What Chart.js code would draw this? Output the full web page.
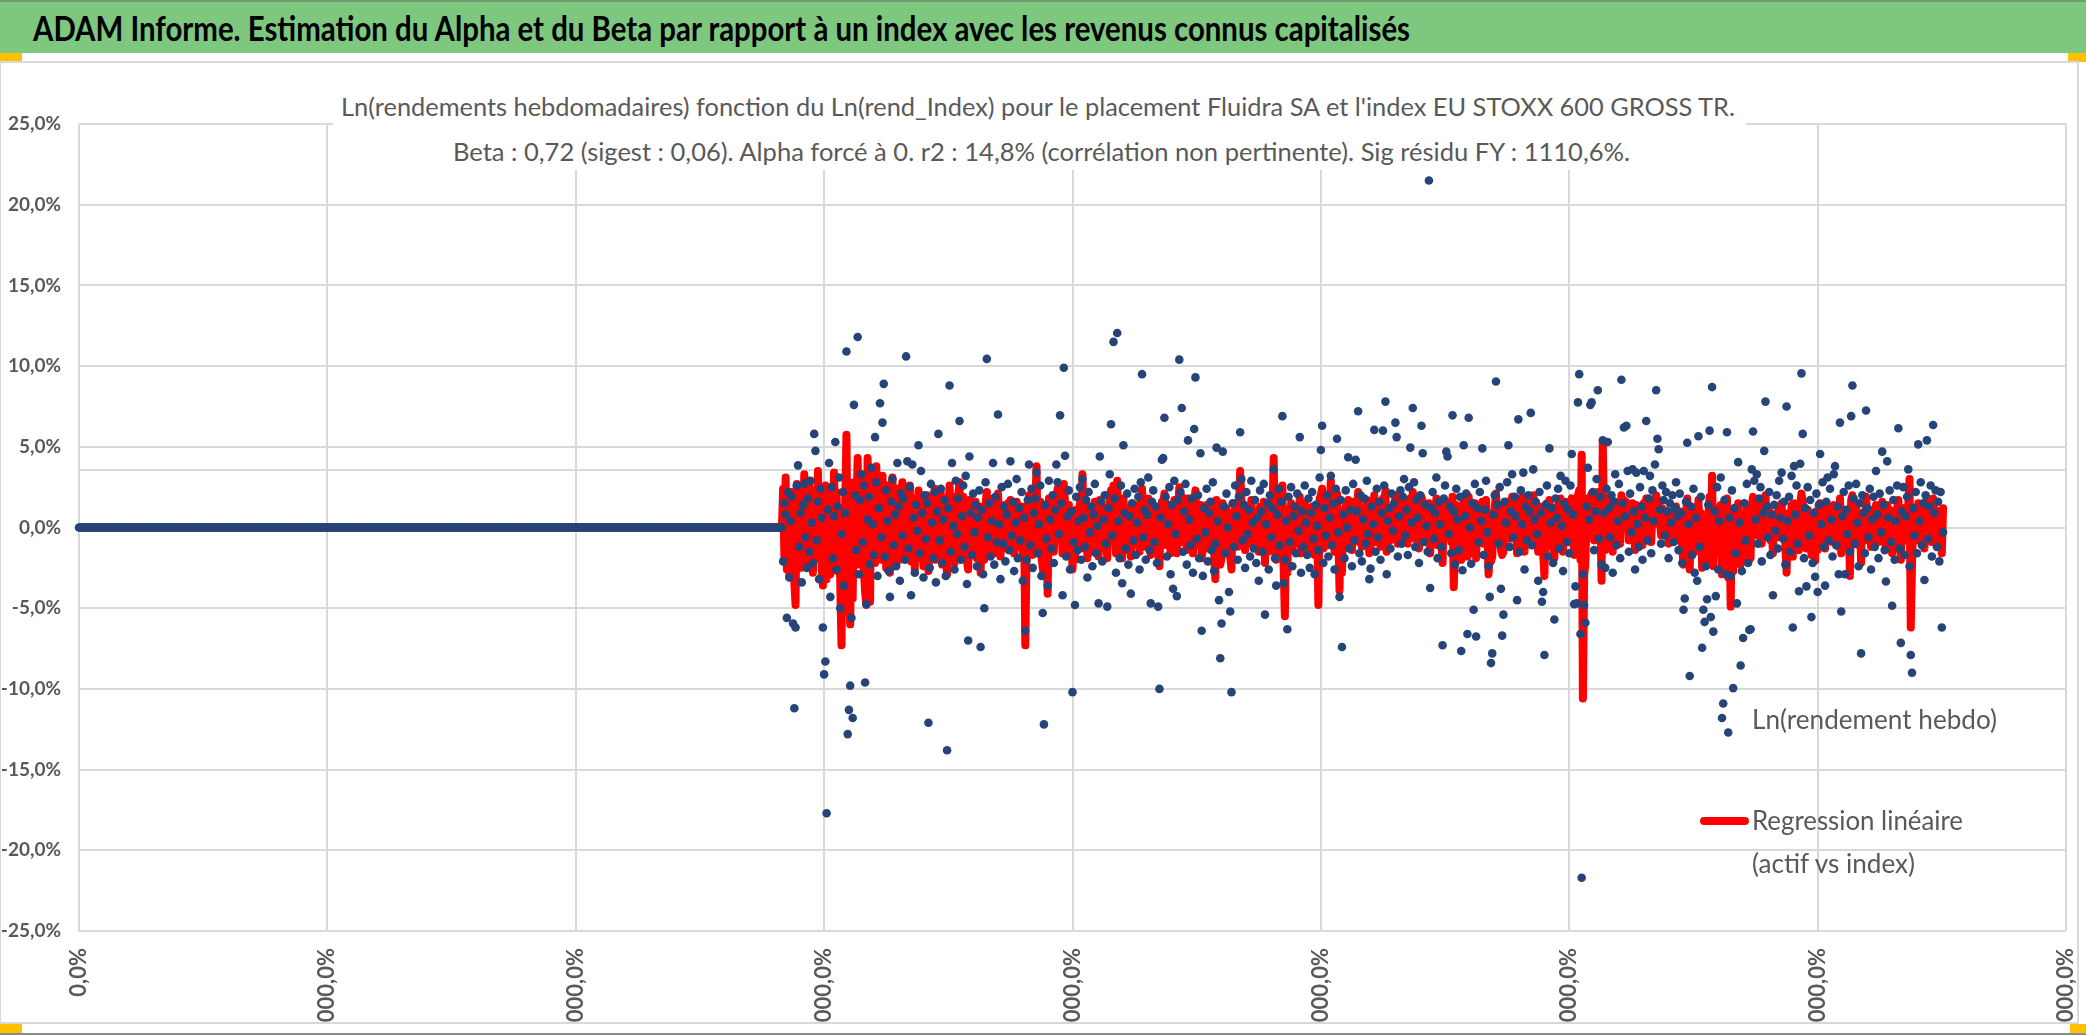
<!DOCTYPE html>
<html><head><meta charset="utf-8">
<script src="https://cdn.jsdelivr.net/npm/chart.js@4.4.1/dist/chart.umd.min.js"></script>
<style>
html,body{margin:0;padding:0;background:#fff;}
body{width:2086px;height:1035px;overflow:hidden;position:relative;font-family:Lato,'Open Sans',sans-serif;}
.abs{position:absolute;}
.txt{position:absolute;white-space:nowrap;transform-origin:0 0;}
</style></head><body>
<div class="abs" style="left:0;top:0;width:2086px;height:53px;background:#7ec77f;border-top:2px solid #6f9c70;box-sizing:border-box"></div>
<div class="txt fit" data-w="1377" style="left:33px;top:10px;font-size:35px;line-height:35px;font-weight:bold;color:#000">ADAM Informe. Estimation du Alpha et du Beta par rapport à un index avec les revenus connus capitalisés</div>
<div class="abs" style="left:0;top:53px;width:22px;height:8px;background:#ffc000"></div>
<div class="abs" style="left:2068px;top:53px;width:18px;height:9px;background:#ffc000"></div>
<div class="abs" style="left:0;top:61px;width:2079px;height:2px;background:#d9d9d9"></div>
<div class="abs" style="left:0;top:61px;width:1px;height:963px;background:#d9d9d9"></div>
<div class="abs" style="left:2077px;top:61px;width:2px;height:963px;background:#d9d9d9"></div>
<div class="abs" style="left:0;top:1022px;width:2079px;height:2px;background:#d9d9d9"></div>
<div class="abs" style="left:0;top:1024px;width:22px;height:9px;background:#ffc000"></div>
<div class="abs" style="left:2070px;top:1024px;width:16px;height:9px;background:#ffc000"></div>
<div class="abs" style="left:0;top:1033px;width:2086px;height:2px;background:#8c8c8c"></div>

<div class="abs" style="left:2px;top:63px;width:2074px;height:959px;"><canvas id="c"></canvas></div>

<div class="abs" style="left:333px;top:80px;width:1413px;height:90px;background:#fff"></div>
<div class="txt fit" data-w="1394" style="left:341px;top:94px;font-size:25px;line-height:25px;color:#595959">Ln(rendements hebdomadaires) fonction du Ln(rend_Index) pour le placement Fluidra SA et l'index EU STOXX 600 GROSS TR.</div>
<div class="txt fit" data-w="1177" style="left:453px;top:139px;font-size:25px;line-height:25px;color:#595959">Beta : 0,72 (sigest : 0,06). Alpha forcé à 0. r2 : 14,8% (corrélation non pertinente). Sig résidu FY : 1110,6%.</div>

<div class="txt fit" data-w="245" style="left:1752px;top:706px;font-size:26px;line-height:26px;color:#595959">Ln(rendement hebdo)</div>
<div class="abs" style="left:1700px;top:817px;width:49px;height:8px;background:#ff0000;border-radius:4px"></div>
<div class="txt fit" data-w="211" style="left:1752px;top:807px;font-size:26px;line-height:26px;color:#595959">Regression linéaire</div>
<div class="txt fit" data-w="163" style="left:1752px;top:850px;font-size:26px;line-height:26px;color:#595959">(actif vs index)</div>

<script>
// ---- DATA (values in %) ----
const xTicks = [0,200,400,600,800,1000,1200,1400,1600];
const yTicks = [-25,-20,-15,-10,-5,0,5,10,15,20,25];
const extraGridLines = [3.55];

// weeks before listing: both series at 0
const preListingWeeks = [
0,0,0,0,0,0,0,0,0, 0,0,0,0,0,0,0,0,0, 0,0,0,0,0,0,0,0,0, 0,0,0,0,0,0,0,0,0, 0,0,0,0,0,0,0,0,0, 0,0,0,0,0,0,0,0,0, 0,0,0,0,0,0,0,0,0,
0,0,0,0,0,0,0,0,0, 0,0,0,0,0,0,0,0,0, 0,0,0,0,0,0,0,0,0, 0,0,0,0,0,0,0,0,0, 0,0,0,0,0,0,0,0,0, 0,0,0,0,0,0,0,0,0, 0,0,0,0,0,0,0,0,0,
0,0,0,0,0,0,0,0,0, 0,0,0,0,0,0,0,0,0, 0,0,0,0,0,0,0,0,0, 0,0,0,0,0,0,0,0,0, 0,0,0,0,0,0,0,0,0, 0,0,0,0,0,0,0,0,0, 0,0,0,0,0,0,0,0,0,
0,0,0,0,0,0,0,0,0, 0,0,0,0,0,0,0,0,0, 0,0,0,0,0,0,0,0,0, 0,0,0,0,0,0,0,0,0, 0,0,0,0,0,0,0,0,0, 0,0,0,0,0,0,0,0,0, 0,0,0,0,0,0,0,0,0,
0,0,0,0,0,0,0,0,0, 0,0,0,0,0,0,0,0,0, 0,0,0,0,0,0,0,0,0, 0,0,0,0,0,0,0,0,0, 0,0,0,0,0,0,0,0,0, 0,0,0,0,0,0,0,0,0, 0,0,0,0,0,0,0,0,0,
0,0,0,0,0,0,0,0,0, 0,0,0,0,0,0,0,0,0, 0,0,0,0,0,0,0,0,0, 0,0,0,0,0,0,0,0,0, 0,0,0,0,0,0,0,0,0, 0,0,0,0,0,0,0,0,0, 0,0,0,0,0,0,0,0,0,
0,0,0,0,0,0,0,0,0, 0,0,0,0,0,0,0,0,0, 0,0,0,0,0,0,0,0,0, 0,0,0,0,0,0,0,0,0, 0,0,0,0,0,0,0,0,0, 0,0,0,0,0,0,0,0,0, 0,0,0,0,0,0,0,0,0,
0,0,0,0,0,0,0,0,0, 0,0,0,0,0,0,0,0,0, 0,0,0,0,0,0,0,0,0, 0,0,0,0,0,0,0,0,0, 0,0,0,0,0,0,0,0,0, 0,0,0,0,0,0,0,0,0, 0,0,0,0,0,0,0,0,0,
0,0,0,0,0,0,0,0,0, 0,0,0,0,0,0,0,0,0, 0,0,0,0,0,0,0,0,0, 0,0,0,0,0,0,0,0,0, 0,0,0,0,0,0,0,0,0, 0,0,0,0,0,0,0,0,0, 0,0,0,0,0,0,0,0,0
];

// Ln(rendement hebdo) after listing
const rendHebdoListed = [
-2.1,1.5,0.8,-5.6,2.2,-3.1,0.4,1.9,-5.95,-11.2,-6.2,2.6,3.85,-1.2,0.9,-3.4,1.4,2.7,-0.6,-2.5,
1.8,-1.5,2.9,0.3,-2.2,5.8,4.75,-0.8,1.6,-3.2,2.4,0.6,-6.2,-9.1,-8.3,-17.7,1.1,4.0,-4.3,2.5,
-1.9,0.7,5.3,-2.6,1.3,3.1,-5.0,-0.4,2.2,-3.6,0.9,10.9,-12.8,-11.3,-9.8,-5.6,-11.8,7.6,2.0,-1.4,
11.8,-2.9,1.7,3.3,-0.9,2.6,-9.6,-4.75,0.5,1.9,-2.3,3.7,0.2,-1.7,5.6,2.8,-3.0,1.2,7.7,-0.6,
6.5,8.9,-1.8,2.3,0.4,-2.7,-4.3,1.6,3.0,-1.1,0.8,-2.4,4.0,1.3,-3.3,2.1,-0.5,1.8,-2.0,10.6,
4.1,-1.3,2.5,-4.2,3.9,0.6,-2.8,1.4,-0.2,5.1,-1.6,3.5,0.9,-3.1,2.0,-0.7,1.5,-12.1,-2.5,2.7,
0.3,-1.9,2.2,-3.4,1.0,5.8,-0.8,2.4,-2.2,0.5,1.7,-3.0,-13.8,1.2,8.8,-1.5,4.0,0.1,-2.6,2.9,
-0.4,1.8,6.6,-2.0,0.7,2.6,-1.2,3.2,-3.5,-7.0,4.4,0.9,-1.7,2.1,-0.3,1.4,-2.4,0.6,2.3,-7.4,
1.1,-2.9,-5.0,2.8,10.45,-0.6,1.5,-1.8,0.4,4.0,-2.3,1.9,-0.9,7.0,0.2,-3.2,2.5,-1.0,1.3,-2.1,
0.8,2.7,-1.4,4.1,-0.5,1.6,-2.7,0.3,3.0,-1.9,1.2,-0.8,2.2,-3.3,0.6,-6.4,-2.0,1.7,3.9,-1.1,
2.4,-2.5,0.9,1.8,3.4,-1.6,0.2,2.6,-3.0,-5.3,-12.2,1.4,-0.7,-3.6,2.9,0.5,-1.3,2.0,-2.2,1.1,
3.9,2.8,-0.4,6.95,1.5,-4.2,9.9,4.45,-1.8,0.7,2.3,-2.6,1.0,-10.2,-0.9,-4.8,1.9,-1.4,0.4,2.5,
-2.0,3.0,0.6,-1.2,1.7,-3.1,2.2,-0.3,1.3,-2.4,0.8,2.7,-1.6,0.1,-4.7,4.4,1.6,-2.1,0.5,2.0,
-1.0,-4.9,1.2,3.3,6.4,-0.5,11.5,1.8,-2.8,12.05,0.4,-1.9,2.6,-3.45,5.1,0.9,-1.3,2.1,-2.3,0.7,
-4.1,1.5,-0.8,2.4,-1.7,0.3,1.9,-2.6,2.8,9.5,-0.6,1.1,-2.0,0.8,3.1,-1.4,-4.7,1.6,2.3,-0.9,
1.3,-2.2,-4.9,-10.0,0.6,4.2,4.3,6.8,1.9,-1.8,0.2,2.5,-2.9,1.4,-3.8,2.9,-0.4,-4.25,1.7,10.4,
2.2,7.4,-1.5,1.0,2.7,-2.3,5.4,0.5,-1.1,1.8,-2.8,6.1,9.3,-0.7,2.0,-1.9,4.6,-6.4,-3.0,1.2,
-0.3,2.4,-2.1,0.9,1.6,-1.4,2.8,-2.7,-1.0,4.95,0.4,-4.5,-8.1,-5.95,4.7,1.3,-1.6,2.1,0.0,-4.0,
-5.2,-10.2,1.5,-1.2,2.6,0.7,-2.0,1.9,5.9,3.0,-0.8,1.4,-2.5,2.2,-0.4,1.1,-1.8,2.9,0.3,-1.3,
1.7,-2.2,0.6,-3.3,2.3,1.0,-1.5,2.7,-5.4,0.2,1.5,-2.6,2.0,-0.6,1.2,3.6,-1.9,-3.6,0.8,2.4,
-1.1,1.6,6.9,-3.45,-2.0,0.4,-6.3,1.9,-0.9,2.5,-2.4,0.7,1.3,-1.6,2.1,-0.2,5.6,-2.8,1.0,-1.2,
2.6,0.3,-1.7,1.8,-2.5,0.9,2.2,-0.7,-2.9,1.4,0.1,-1.4,3.1,4.8,6.3,-2.2,1.2,-0.5,2.0,-1.8,
0.6,3.2,-1.1,1.5,-2.6,2.4,5.5,-0.3,-4.3,1.7,-7.4,0.8,-1.9,2.3,0.0,4.35,-1.3,1.1,-2.4,2.7,
-0.8,4.2,1.0,7.2,-1.6,2.0,-2.1,0.5,1.8,-1.0,2.9,-0.4,-3.2,-2.55,1.3,0.2,6.05,-1.5,2.4,-0.6,
1.6,-2.0,0.9,6.0,2.6,7.8,-2.9,0.4,1.2,-1.3,2.1,-0.2,1.5,6.5,5.6,-1.8,0.7,2.3,-1.0,1.9,
3.0,-0.5,1.1,-1.7,2.5,4.95,0.3,7.4,2.8,-1.2,1.7,0.6,-2.2,2.0,6.3,4.6,-0.9,1.4,0.1,-1.5,
21.5,-3.75,1.2,2.2,-0.7,0.9,3.1,-1.9,1.6,0.2,-1.2,-7.3,1.8,2.6,4.7,4.4,-0.4,1.3,-1.6,6.95,
1.0,-2.3,2.4,0.5,-1.4,1.9,-7.65,-2.65,5.1,0.7,2.1,-6.6,6.8,0.0,-2.25,1.5,-5.1,2.7,-6.75,1.2,
-0.9,2.2,0.4,4.9,-1.7,1.1,2.9,-0.3,-2.4,-4.3,-8.4,-7.8,0.8,2.0,9.05,1.4,-1.0,2.5,-3.8,-6.7,
-5.4,1.6,0.3,2.8,5.1,-1.2,1.0,3.3,-0.6,1.9,0.7,-4.5,6.7,-1.5,2.3,0.2,3.4,-2.6,1.3,-0.8,
2.0,1.0,7.1,-1.1,3.6,0.5,1.6,-0.4,-3.3,2.2,0.9,-4.6,-4.0,-7.9,1.4,2.6,-1.8,4.9,0.3,1.2,
-2.2,-5.7,1.8,0.6,2.4,-1.3,3.2,0.1,-2.7,1.5,2.9,-0.9,1.1,-1.6,2.6,4.55,0.8,-4.75,-3.65,-4.7,
7.75,9.5,-6.6,-21.7,-2.9,-4.8,-5.9,1.3,3.7,0.5,7.6,7.75,2.2,-1.4,1.0,3.0,8.5,-0.7,1.9,-2.3,
5.4,0.9,-2.5,2.4,5.3,1.2,-0.6,2.0,-2.8,1.6,3.3,-1.1,0.4,2.7,-1.9,9.15,1.5,6.2,0.7,6.3,
3.5,-1.5,2.1,-0.3,3.6,1.0,-2.6,3.4,0.2,-1.2,2.5,1.3,-2.0,3.5,0.6,6.6,-0.8,1.8,3.2,-1.6,
2.3,0.4,3.9,8.5,5.5,4.85,1.1,-1.0,2.6,1.7,-0.5,2.2,1.0,-1.9,1.5,0.3,2.0,-0.9,1.2,2.8,
0.7,-1.4,2.1,0.9,-2.2,-5.1,-4.4,1.6,5.25,0.2,-9.2,1.3,-1.7,2.4,-2.8,0.6,-3.3,5.65,-1.2,1.9,
-7.45,-5.1,-5.85,-2.4,-4.45,1.4,6.0,-5.55,8.7,-6.45,1.0,-4.25,2.5,-2.6,0.4,3.1,-11.8,-10.9,1.7,-2.9,
5.9,-12.7,0.6,-3.0,2.3,-9.95,1.2,-1.6,-4.7,4.05,0.3,-8.55,-2.7,-6.85,1.5,-0.8,2.7,-2.2,-6.35,-6.3,
3.6,5.95,2.9,0.5,3.3,-1.0,1.8,2.5,-2.1,0.9,4.75,7.8,1.3,-0.6,2.2,-1.7,0.8,-4.2,1.4,-0.2,
2.0,-1.3,2.9,0.6,3.4,-0.7,1.6,-2.3,7.5,0.4,1.9,-1.5,3.2,-6.2,3.8,0.8,2.6,-1.0,-3.95,3.95,
9.55,5.8,-1.9,1.2,-3.65,2.5,-0.5,1.7,-5.55,-2.2,0.9,-3.05,2.1,-4.0,1.4,4.55,0.2,2.8,-1.2,-3.6,
1.6,3.1,-0.8,2.4,0.5,-1.8,3.3,3.8,-1.1,1.3,-2.9,6.5,-5.2,0.7,2.2,-2.9,1.1,-0.4,2.6,-1.5,
6.9,8.8,1.8,-1.0,2.7,0.3,-2.4,1.5,-7.8,2.0,0.9,-1.6,7.25,1.2,-0.6,2.4,-2.6,0.5,1.9,-1.2,
3.5,0.8,-1.9,2.1,-0.3,4.7,1.4,-1.4,-3.35,4.1,0.6,2.3,-0.9,-4.85,1.7,-2.0,0.4,2.6,6.15,-1.3,
-7.15,1.0,2.5,-1.7,0.7,1.9,3.6,-2.4,-7.9,-9.0,1.2,-0.5,2.2,-1.6,5.15,0.4,2.8,-1.1,1.5,-3.25,
2.0,5.4,-0.7,1.3,2.6,-1.8,6.35,0.9,2.3,-1.2,1.6,-2.1,2.2,-6.2,-0.3
];

// Regression linéaire (actif vs index) after listing
const regressionListed = [
2.4,-1.8,3.1,-2.6,1.5,-3.0,2.2,-0.8,1.9,-3.4,-4.8,2.7,-1.2,0.9,-2.5,2.0,-1.6,3.3,-0.4,1.2,
-2.2,2.9,-1.0,1.7,-2.8,0.6,2.3,-1.9,3.5,-0.7,1.4,-2.4,-3.6,1.1,2.6,-3.2,0.5,2.1,-2.9,1.8,
-1.3,3.4,-0.6,2.2,-2.7,1.0,-3.5,-7.3,0.8,-5.2,1.6,5.75,-3.9,-2.1,-6.0,1.3,-4.4,2.8,-1.5,0.9,
4.3,-2.3,2.5,-1.1,3.0,-2.6,-4.0,-4.8,4.3,-1.4,-4.6,3.6,-0.9,2.0,-2.2,3.8,-1.7,1.2,2.7,-2.0,
3.2,-0.5,1.9,-2.5,2.6,-1.2,-2.8,1.5,3.1,-0.8,1.0,-2.3,2.4,-1.5,-2.0,1.7,2.8,-0.3,-1.8,2.2,
1.2,-1.6,2.6,-2.1,0.7,1.8,-2.6,1.1,-0.5,2.3,-1.9,1.4,0.2,-2.4,1.6,-0.9,2.0,-2.7,-1.2,1.9,
-0.6,1.3,2.4,-2.0,0.8,1.7,-1.4,2.1,-2.3,0.4,1.5,-1.8,-2.9,1.0,2.6,-1.1,1.9,-0.4,-2.2,1.6,
-0.9,2.0,2.8,-1.6,0.6,1.9,-1.0,1.4,-2.1,-2.6,1.7,0.3,-1.5,1.2,-0.8,1.6,-1.9,0.5,1.3,-2.8,
0.7,-1.7,-2.0,1.5,2.2,-0.6,1.1,-1.4,0.4,1.8,-1.6,1.2,-0.5,2.1,0.3,-1.8,1.4,-0.9,0.8,-1.3,
0.6,1.5,-1.0,1.7,-0.4,1.0,-1.6,0.2,1.6,-1.2,0.9,-0.6,1.3,-1.9,0.4,-7.3,-1.5,1.2,2.0,-0.8,
1.4,-1.7,0.6,1.1,3.8,-1.2,0.3,1.6,-1.8,-2.5,-3.0,1.0,-0.5,-4.1,1.8,0.4,-0.9,1.3,-1.5,0.7,
1.9,2.4,-0.3,2.2,0.9,-1.6,2.7,1.5,-1.2,0.5,1.4,-1.7,0.6,-2.6,-0.6,-2.0,1.1,-0.9,0.3,1.5,
-1.3,3.3,0.4,-0.8,1.0,-1.9,1.3,-0.2,0.8,-1.5,0.5,1.6,-1.0,0.1,-1.8,1.7,0.9,-1.3,0.3,1.2,
-0.7,-1.9,0.8,1.9,2.3,-0.3,2.6,1.0,-1.6,2.9,0.2,-1.2,1.5,-1.9,1.8,0.5,-0.8,1.2,-1.4,0.4,
-1.8,0.9,-0.5,1.4,-1.0,0.2,1.1,-1.5,1.6,2.4,-0.4,0.6,-1.2,0.5,1.8,-0.8,-1.7,0.9,1.3,-0.6,
0.8,-1.3,-1.6,-2.4,0.4,1.6,1.4,2.1,1.0,-1.1,0.1,1.4,-1.6,0.8,-1.5,1.7,-0.2,-1.6,1.0,2.5,
1.3,1.9,-0.9,0.6,1.5,-1.4,1.8,0.3,-0.7,1.0,-1.6,1.6,2.3,-0.4,1.1,-1.1,1.4,-1.9,-1.2,0.7,
-0.2,1.4,-1.3,0.5,0.9,-0.8,1.6,-1.5,-3.2,1.7,0.2,-1.7,-2.3,-1.9,1.5,0.8,-0.9,1.2,0.0,-1.4,
-1.8,-2.6,0.9,-0.7,1.5,0.4,-1.2,1.1,3.5,1.7,-0.5,0.8,-1.4,1.3,-0.2,0.6,-1.0,1.7,0.2,-0.8,
1.0,-1.3,0.3,-1.5,1.3,0.6,-0.9,1.6,-2.2,0.1,0.9,-1.5,1.2,-0.4,0.7,4.3,-1.1,-2.0,0.5,1.4,
-0.7,0.9,2.6,-2.4,-5.5,0.2,-2.8,1.1,-0.5,1.5,-1.4,0.4,0.8,-1.0,1.2,-0.1,1.9,-1.6,0.6,-0.7,
1.5,0.2,-1.0,1.0,-1.5,0.5,1.3,-0.4,-1.7,0.8,0.1,-4.8,1.8,2.0,2.4,-1.3,0.7,-0.3,1.2,-1.1,
0.4,2.9,-0.6,0.9,-1.5,1.4,2.1,-0.2,-3.9,1.0,-2.8,0.5,-1.1,1.3,0.0,1.7,-0.8,0.6,-1.4,1.6,
-0.5,1.6,0.6,2.2,-0.9,1.2,-1.2,0.3,1.0,-0.6,1.7,-0.2,-1.6,-1.3,0.8,0.1,2.0,-0.9,1.4,-0.4,
0.9,-1.2,0.5,1.8,1.5,2.3,-1.5,0.2,0.7,-0.8,1.2,-0.1,0.9,2.0,1.7,-1.0,0.4,1.3,-0.6,1.1,
1.7,-0.3,0.6,-1.0,1.4,1.8,0.2,2.2,1.6,-0.7,1.0,0.4,-1.3,1.2,1.9,1.6,-0.5,0.8,0.1,-0.9,
1.5,-1.6,0.7,1.3,-0.4,0.5,1.8,-1.1,0.9,0.1,-0.7,-2.2,1.0,1.5,1.6,1.4,-0.2,0.8,-0.9,1.9,
-3.7,-1.3,1.4,0.3,-0.8,1.1,-2.0,-1.5,1.7,0.4,1.2,-1.8,1.9,0.0,-1.3,0.9,-1.6,1.5,-1.9,0.7,
-0.5,1.3,0.2,1.6,-1.0,0.6,1.7,-0.2,-2.9,-1.6,-2.1,-1.8,0.5,1.2,2.1,0.8,-0.6,1.4,-1.4,-1.7,
-1.5,0.9,0.2,1.6,1.5,-0.7,0.6,1.9,-0.4,1.1,0.4,-1.6,1.8,-0.9,1.3,0.1,1.9,-1.5,0.8,-0.5,
1.2,0.6,1.9,-0.6,2.0,0.3,0.9,-0.2,-1.5,1.3,0.5,-1.4,-1.6,-3.0,0.8,1.5,-1.0,1.7,0.2,0.7,
-1.3,-1.9,1.0,0.4,1.4,-0.8,1.8,0.1,-1.5,0.9,1.6,-0.5,0.6,-0.9,1.5,1.8,0.5,-1.7,-1.2,-1.5,
2.0,2.3,-2.0,4.5,-10.6,-3.0,-2.2,0.8,1.8,0.3,1.9,2.1,1.2,-0.8,0.6,1.6,2.2,-0.4,1.1,-3.3,
5.3,0.5,-1.4,1.3,1.8,0.7,-0.3,1.1,-1.5,0.9,1.6,-0.6,0.2,1.4,-1.0,2.0,0.8,1.7,0.4,1.6,
1.4,-0.8,1.1,-0.2,1.5,0.5,-1.4,1.4,0.1,-0.6,1.2,0.7,-1.1,1.5,0.3,1.8,-0.4,0.9,1.4,-0.9,
1.1,0.2,1.6,2.0,1.6,1.5,0.6,-0.5,1.2,0.8,-0.3,1.0,0.5,-1.0,0.8,0.1,1.0,-0.5,0.6,1.3,
0.4,-0.8,1.0,0.5,-1.2,-2.3,-1.8,0.8,1.8,0.1,-2.6,0.7,-0.9,1.1,-1.5,0.3,-1.4,1.7,-0.6,0.9,
-2.5,-1.9,-2.2,-1.2,-1.7,0.7,1.9,-2.0,3.2,-2.4,0.5,-1.6,1.2,-1.4,0.2,1.4,-2.9,-2.6,0.8,-1.5,
1.8,-3.1,0.3,-4.9,1.1,-2.7,0.6,-0.8,-1.7,1.5,0.1,-2.3,-1.3,-2.1,0.7,-0.4,1.3,-1.1,-2.0,-1.9,
1.4,1.9,1.3,0.2,1.5,-0.5,0.9,1.2,-1.0,0.4,1.6,2.0,0.6,-0.3,1.0,-0.8,0.4,-1.6,0.7,-0.1,
0.9,-0.6,1.3,0.3,1.5,-0.3,0.8,-1.1,-2.8,0.2,0.9,-0.7,1.4,-1.8,1.5,0.4,1.2,-0.5,-1.4,1.4,
2.1,1.6,-0.9,0.6,-1.3,1.1,-0.2,0.8,-1.7,-1.0,0.4,-2.05,1.0,-1.4,0.7,1.5,0.1,1.2,-0.6,-1.3,
0.8,1.3,-0.4,1.1,0.2,-0.9,1.4,1.3,-0.5,0.6,-1.2,1.8,-1.6,0.3,1.0,-1.1,0.5,-0.2,1.1,-3.0,
1.7,2.0,0.8,-0.5,1.2,0.1,-1.1,0.7,-2.2,0.9,0.4,-0.8,1.9,0.6,-0.3,1.1,-1.2,0.2,0.9,-0.6,
1.4,0.4,-0.9,1.0,-0.1,1.6,0.7,-0.7,-1.3,1.4,0.3,1.1,-0.4,-1.6,0.8,-1.0,0.2,1.2,1.7,-0.6,
-2.0,0.5,1.2,-0.8,0.3,0.9,1.4,3.0,-6.2,-2.4,0.6,-0.2,1.0,-0.8,1.5,0.2,1.3,-0.5,0.7,-1.3,
1.0,1.6,-0.3,0.6,1.2,-0.9,1.8,0.4,1.1,-0.6,0.8,-1.0,1.0,-1.6,1.2
];

const rendHebdo = preListingWeeks.concat(rendHebdoListed);
const regression = preListingWeeks.concat(regressionListed);

// ---- text fitting ----
function fitAll(){
  document.querySelectorAll('.fit').forEach(el=>{
    el.style.transform='none';
    const w = el.getBoundingClientRect().width;
    const target = parseFloat(el.dataset.w);
    if (w>0) el.style.transform = 'scaleX(' + (target/w) + ')';
  });
}
fitAll();
if (document.fonts && document.fonts.ready) document.fonts.ready.then(fitAll);

// ---- chart ----
function fmtPct(v){ return v.toFixed(1).replace('.', ',') + '%'; }

Chart.defaults.font.family = "Lato, 'Open Sans', sans-serif";
new Chart(document.getElementById('c'), {
  type: 'scatter',
  data: {
    datasets: [
      {
        label: 'Ln(rendement hebdo)',
        data: rendHebdo.map((v,i)=>({x:i, y:v})),
        showLine: false,
        pointRadius: 4.3,
        pointHoverRadius: 4.3,
        pointBackgroundColor: '#264478',
        pointBorderWidth: 0,
        clip: false
      },
      {
        label: 'Regression linéaire (actif vs index)',
        data: regression.map((v,i)=>({x:i, y:v})),
        showLine: true,
        pointRadius: 0,
        pointHoverRadius: 0,
        borderColor: '#ff0000',
        borderWidth: 8,
        borderJoinStyle: 'round',
        borderCapStyle: 'round',
        tension: 0,
        fill: false
      }
    ]
  },
  options: {
    responsive: true,
    maintainAspectRatio: false,
    animation: false,
    devicePixelRatio: 1,
    events: [],
    layout: { padding: { top: 61, right: 10, left: 0, bottom: 0 } },
    plugins: { legend: { display: false }, tooltip: { enabled: false }, title: { display: false } },
    scales: {
      x: {
        type: 'linear', min: 0, max: 1600,
        afterBuildTicks(s){ s.ticks = xTicks.map(v=>({value:v})); },
        afterFit(s){ s.height = 91; s.paddingLeft = 0; s.paddingRight = 0; },
        ticks: {
          autoSkip: false, maxRotation: 90, minRotation: 90, padding: 17,
          color: '#595959', font: { size: 22, weight: 'bold' },
          callback: v => fmtPct(v*100)
        },
        grid: { color: '#d9d9d9', lineWidth: 2, drawTicks: false },
        border: { display: false }
      },
      y: {
        min: -25, max: 25,
        afterBuildTicks(s){ s.ticks = yTicks.concat(extraGridLines).map(v=>({value:v})); },
        afterFit(s){ s.width = 77; s.paddingTop = 0; s.paddingBottom = 0; },
        ticks: {
          padding: 18, color: '#595959', font: { size: 19, weight: 'bold' },
          callback: v => yTicks.includes(v) ? fmtPct(v) : ''
        },
        grid: { color: '#d9d9d9', lineWidth: 2, drawTicks: false },
        border: { display: false }
      }
    }
  }
});
</script>
</body></html>
